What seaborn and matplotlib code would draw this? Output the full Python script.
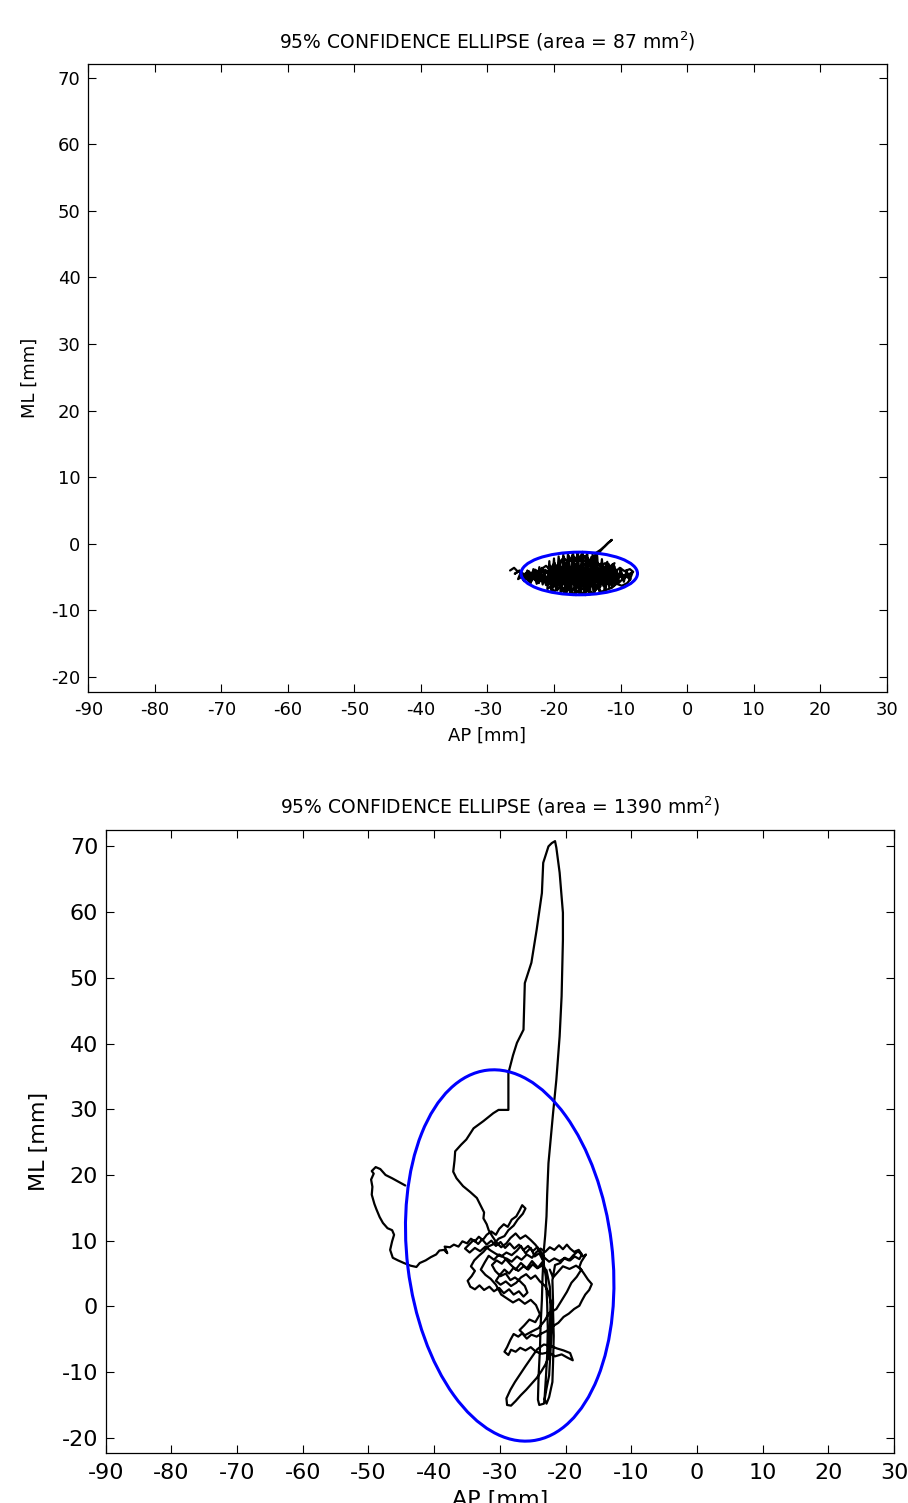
import matplotlib
matplotlib.use("Agg")
import matplotlib.pyplot as plt
from matplotlib.patches import Ellipse
import seaborn as sns

# ============================
# Data (AP / ML in mm)
# ============================
top_ap = [-26.6, -26.0, -25.4, -25.9, -25.2, -24.5, -23.8, -23.2, -22.6, -22.0,
          -21.4, -21.9, -21.2, -20.6, -20.1, -19.5, -19.0, -18.3, -17.8, -17.1,
          -16.5, -15.9, -15.3, -14.6, -14.0, -13.6, -13.0, -12.4, -11.9, -11.3,
          -11.8, -12.6, -13.4, -14.2, -14.9, -15.6, -16.2, -16.9, -17.5, -18.2,
          -18.8, -19.5, -20.3, -20.9, -21.6, -20.8, -20.1, -19.4, -18.7, -18.0,
          -17.3, -16.6, -15.9, -15.2, -14.5, -13.8, -13.2, -12.5, -11.8, -11.0,
          -10.2, -9.5, -8.8, -8.1, -8.6, -9.4, -10.1, -10.9, -11.6, -12.3,
          -13.1, -13.8, -14.6, -15.3, -16.0, -16.8, -17.6, -18.4, -19.1, -19.8,
          -20.5, -19.9, -19.1, -18.5, -17.7, -17.0, -16.3, -15.6, -14.9, -14.2,
          -13.5, -14.1, -14.8, -15.5, -16.2, -16.9, -17.6, -18.3, -19.0, -19.6,
          -19.1, -18.4, -17.7, -17.0, -16.3, -15.6, -14.9, -14.2, -13.5, -12.8,
          -12.1, -11.4, -10.7, -10.0, -9.2, -8.5, -9.0, -9.8, -10.6, -11.3,
          -12.1, -12.9, -13.6, -14.4, -15.1, -15.8, -16.5, -17.2, -17.9, -18.6,
          -19.3, -20.0, -20.7, -21.5, -22.3, -23.0, -23.7, -24.4, -23.6, -22.8,
          -22.1, -21.3, -20.6, -19.9, -19.2, -18.6, -17.9, -17.2, -16.5, -15.8,
          -15.1, -14.4, -13.7, -13.0, -12.3, -11.6, -10.9, -11.5, -12.4, -13.2,
          -14.0, -14.7, -15.4, -16.1, -16.8, -17.5, -18.2, -18.9, -18.1, -17.4,
          -16.7, -16.0, -15.3, -14.6, -13.9, -13.2, -13.9, -15.0, -16.1, -16.6,
          -21.0, -20.7, -20.4, -20.0, -19.7, -19.3, -19.0, -18.6, -18.3, -17.9,
          -17.6, -17.2, -16.9, -16.5, -16.2, -15.8, -15.5, -15.1, -14.8, -14.4,
          -14.1, -13.7, -13.4, -13.0, -12.6, -12.2, -11.8, -11.4, -11.0, -10.6,
          -10.9, -11.2, -11.7, -12.0, -12.4, -12.8, -13.2, -13.5, -13.9, -14.2,
          -14.6, -15.0, -15.3, -15.7, -16.0, -16.4, -16.7, -17.1, -17.4, -17.8,
          -18.1, -18.5, -18.8, -19.2, -19.5, -19.9, -20.2, -20.6, -21.2, -21.8,
          -22.3, -22.9, -23.4, -24.0, -24.6, -25.1, -24.4, -23.6, -22.7, -21.9,
          -13.0, -12.6, -12.2, -11.8, -11.3, -10.9, -10.4, -10.0, -9.5, -9.1,
          -8.6, -8.2, -8.9, -9.7, -10.5, -11.4, -12.3, -13.1, -14.0, -15.2,
          -16.4, -17.7, -18.9, -20.1, -21.3, -21.7, -22.2, -22.6, -23.1, -23.5,
          -24.0, -24.5, -25.0, -25.4, -24.8, -23.9, -22.9, -21.8, -20.8, -19.9]
top_ml = [-4.0, -3.6, -4.2, -4.5, -4.0, -4.6, -4.1, -4.8, -4.3, -5.1,
          -4.5, -3.8, -3.3, -3.9, -3.1, -3.7, -2.6, -3.2, -2.2, -2.9,
          -1.9, -2.6, -1.8, -2.5, -2.0, -1.3, -0.9, -0.4, 0.1, 0.6,
          0.2, -0.6, -1.5, -2.8, -3.4, -2.9, -3.6, -3.1, -3.9, -3.5,
          -4.2, -4.6, -4.1, -5.0, -5.6, -6.1, -5.4, -6.2, -5.5, -6.4,
          -5.7, -6.6, -5.9, -6.8, -6.1, -6.9, -6.2, -5.6, -6.1, -5.4,
          -5.8, -5.1, -4.6, -4.2, -3.8, -4.1, -3.6, -4.3, -3.7, -4.4,
          -3.8, -4.6, -4.0, -4.9, -4.3, -5.1, -4.5, -5.3, -4.8, -5.7,
          -6.6, -7.1, -6.5, -7.3, -6.8, -7.6, -7.0, -7.5, -6.9, -7.4,
          -6.7, -5.8, -5.2, -5.8, -5.0, -5.8, -5.2, -6.0, -5.6, -4.4,
          -3.4, -4.0, -3.4, -4.2, -3.5, -4.3, -3.7, -4.5, -3.9, -4.8,
          -5.2, -4.7, -5.1, -4.5, -4.9, -5.3, -5.9, -6.3, -6.0, -6.6,
          -6.9, -7.2, -6.3, -5.6, -6.4, -6.8, -6.1, -6.9, -6.2, -6.8,
          -6.0, -6.4, -5.5, -5.0, -5.8, -5.2, -5.7, -5.0, -4.6, -3.9,
          -4.4, -3.9, -4.6, -3.6, -2.9, -2.1, -2.7, -1.8, -2.4, -1.6,
          -2.2, -3.1, -2.6, -3.3, -2.9, -3.4, -2.9, -4.0, -3.6, -4.3,
          -3.3, -4.7, -3.9, -5.4, -4.0, -5.9, -4.6, -6.5, -7.0, -5.0,
          -6.3, -4.6, -6.1, -4.3, -5.6, -5.0, -3.1, -2.7, -2.2, -3.0,
          -6.8, -2.6, -7.2, -2.2, -6.9, -1.9, -7.4, -1.6, -7.1, -1.5,
          -7.5, -1.4, -7.2, -1.3, -7.6, -1.5, -7.3, -1.7, -7.4, -2.0,
          -7.0, -2.4, -6.6, -3.0, -6.3, -3.3, -6.0, -3.6, -5.8, -3.9,
          -6.2, -3.1, -6.5, -2.7, -6.9, -2.3, -7.1, -1.9, -7.3, -1.6,
          -7.6, -1.4, -7.7, -1.2, -7.5, -1.4, -7.7, -1.6, -7.3, -1.8,
          -7.5, -2.0, -6.8, -2.4, -7.0, -2.9, -6.6, -3.3, -6.2, -3.6,
          -5.9, -3.9, -5.6, -4.2, -5.4, -4.4, -5.2, -4.5, -5.6, -4.8,
          -6.4, -3.2, -6.6, -3.0, -6.3, -3.4, -6.0, -3.7, -5.7, -4.0,
          -5.4, -4.3, -4.8, -5.2, -4.4, -5.6, -4.1, -5.9, -4.6, -5.4,
          -4.6, -6.2, -3.9, -5.2, -4.2, -6.1, -3.5, -6.0, -3.8, -5.9,
          -4.0, -5.6, -4.3, -5.3, -4.9, -5.1, -4.7, -5.3, -4.9, -5.8]

bottom_ap = [-44.4, -45.3, -46.4, -47.4, -48.2, -48.9, -49.5, -49.2, -49.6, -49.4,
             -49.5, -49.1, -48.8, -48.3, -47.8, -47.1, -46.4, -46.1, -46.4, -46.7,
             -46.3, -45.5, -44.6, -43.6, -42.7, -42.2, -41.3, -40.5, -39.7, -39.2,
             -38.5, -38.0, -38.4, -37.6, -37.0, -36.3, -35.7, -35.0, -34.4, -33.8,
             -33.2, -32.6, -32.0, -31.3, -30.6, -30.1, -29.4, -28.8, -28.2, -27.5,
             -27.0, -26.6, -26.1, -26.5, -27.3, -27.9, -28.7, -29.3, -30.2, -30.9,
             -31.8, -32.5, -33.2, -33.9, -34.4, -33.8, -34.3, -34.9, -34.5, -33.8,
             -33.1, -32.4, -31.6, -30.9, -30.1, -29.4, -28.6, -27.9, -27.1, -26.4,
             -25.8, -26.2, -26.9, -27.7, -28.4, -29.1, -29.9, -30.7, -31.2, -30.5,
             -29.7, -29.0, -28.2, -27.4, -26.7, -25.9, -25.1, -24.5, -23.8, -23.1,
             -22.4, -21.7, -21.0, -20.4, -19.8, -19.3, -18.7, -18.0, -17.5, -17.9,
             -18.6, -19.3, -20.1, -20.9, -21.7, -22.5, -23.2, -23.9, -24.6, -25.3,
             -26.1, -26.9, -27.6, -28.4, -29.0, -29.8, -30.5, -31.1, -31.7, -32.0,
             -32.5, -32.4, -32.9, -33.5, -34.5, -35.6, -36.6, -37.1, -36.9, -36.8,
             -35.9, -35.1, -34.0, -32.5, -31.0, -30.2, -28.7, -28.7, -28.0, -27.4,
             -26.4, -26.2, -25.2, -24.4, -23.6, -23.4, -22.6, -22.1, -21.6, -21.4,
             -20.9, -20.4, -20.4, -20.6, -20.9, -21.4, -21.9, -22.6, -22.8, -22.9,
             -23.1, -23.3, -23.5, -23.6, -23.8, -23.9, -24.1, -24.2, -24.0, -23.3,
             -22.9, -22.5, -22.3, -22.1, -21.9, -22.0, -21.6, -20.8, -20.2, -19.5,
             -18.8, -18.1, -17.3, -16.9, -17.6, -17.9, -17.2, -16.6, -16.0, -16.4,
             -17.0, -17.5, -17.9, -18.7, -19.5, -20.3, -21.1, -21.9, -22.8, -23.6,
             -24.4, -25.2, -25.9, -26.6, -27.2, -27.9, -28.4, -28.9, -29.3, -28.7,
             -28.3, -27.6, -26.9, -26.1, -25.3, -24.5, -23.6, -22.6, -21.6, -20.6,
             -19.7, -18.9, -19.3, -20.3, -21.3, -22.3, -23.3, -24.3, -25.2, -26.1,
             -26.9, -27.7, -28.4, -29.0, -28.9, -28.3, -27.6, -26.8, -26.0, -25.2,
             -24.4, -23.7, -23.1, -22.6, -22.4, -22.3, -22.4, -22.9, -23.6, -24.3,
             -25.0, -25.7, -26.4, -27.2, -27.9, -28.6, -29.3, -30.0, -30.6, -29.9,
             -29.1, -28.3, -27.5, -26.8, -26.0, -25.3, -24.6, -23.9, -23.1, -22.6,
             -21.9, -21.8, -21.9, -22.0, -22.5, -22.9, -23.2, -23.0, -22.8, -22.7,
             -22.8, -23.0, -23.5, -24.3, -25.0, -25.7, -26.4, -27.1, -27.8, -28.5,
             -29.2, -29.9, -30.6, -31.3, -32.0, -32.7, -33.3, -34.0, -34.7, -35.3,
             -34.6, -33.8, -33.0, -32.2, -31.4, -30.6, -29.8, -29.0, -28.2, -27.4,
             -26.8, -26.1, -25.3, -24.7, -24.0, -23.4, -24.2, -25.1, -25.9, -26.8,
             -27.6, -28.4, -29.3, -30.1, -30.9, -31.7, -32.3, -32.9, -32.2, -31.4,
             -30.6, -29.8, -28.9, -28.0, -27.1, -26.2, -25.3, -24.5, -23.9, -24.6,
             -25.5, -26.3, -27.0, -26.2, -25.1, -24.1, -23.2, -22.5, -21.4, -20.6,
             -19.8, -19.1, -18.3, -17.6, -18.4, -19.4, -20.4, -21.2, -21.9, -22.4]
bottom_ml = [18.4, 18.9, 19.5, 20.0, 20.9, 21.2, 20.6, 20.2, 19.3, 18.2,
             17.0, 15.6, 14.8, 13.6, 12.7, 11.9, 11.6, 10.9, 9.9, 8.6,
             7.4, 7.0, 6.6, 6.2, 6.0, 6.6, 7.0, 7.5, 7.9, 8.5,
             8.6, 8.1, 9.1, 9.0, 9.4, 9.1, 9.9, 9.6, 10.3, 9.9,
             10.6, 10.1, 10.9, 11.4, 10.9, 11.8, 12.5, 12.1, 13.2, 13.7,
             14.6, 15.4, 14.9, 14.1, 13.2, 12.3, 11.6, 10.7, 10.3, 9.5,
             9.1, 8.3, 7.7, 7.0, 6.1, 5.4, 4.6, 3.9, 3.0, 2.6,
             3.2, 2.5, 3.0, 2.3, 2.8, 2.0, 2.6, 1.8, 2.3, 1.5,
             2.1, 3.1, 3.8, 4.4, 4.0, 5.0, 4.6, 5.4, 6.3, 7.0,
             6.5, 7.3, 6.8, 7.6, 7.1, 7.9, 7.4, 8.2, 8.8, 8.3,
             9.0, 8.6, 9.3, 8.7, 9.4, 8.8, 8.3, 8.6, 7.9, 7.2,
             7.6, 7.0, 7.4, 6.9, 7.3, 6.8, 7.4, 8.5, 9.4, 10.1,
             10.8, 10.3, 11.1, 10.4, 9.6, 9.0, 9.7, 10.6, 11.6, 12.5,
             13.4, 14.3, 15.3, 16.5, 17.4, 18.3, 19.5, 20.5, 22.2, 23.6,
             24.6, 25.4, 27.1, 28.2, 29.4, 29.9, 29.9, 35.5, 38.2, 40.1,
             42.1, 49.2, 52.3, 57.3, 62.9, 67.5, 70.0, 70.5, 70.8, 69.8,
             66.0, 59.9, 55.8, 47.2, 41.1, 34.5, 29.4, 21.8, 17.0, 13.7,
             10.8, 8.6, 4.5, 1.0, -3.0, -6.6, -10.5, -14.2, -15.0, -14.8,
             -12.5, -10.5, -7.0, -3.0, 0.5, 4.0, 6.3, 6.6, 7.3, 7.0,
             7.8, 8.4, 7.6, 7.9, 6.8, 6.0, 5.0, 4.1, 3.4, 2.5,
             1.8, 0.9, 0.1, -0.4, -1.1, -1.6, -2.5, -3.0, -3.7, -4.1,
             -4.6, -4.3, -4.9, -4.1, -4.6, -4.2, -5.1, -6.2, -6.9, -7.4,
             -6.6, -6.9, -6.3, -6.7, -6.2, -6.9, -7.2, -7.0, -7.6, -7.3,
             -7.8, -8.2, -7.1, -6.7, -6.4, -6.0, -5.8, -6.5, -7.8, -9.1,
             -10.3, -11.5, -12.7, -14.0, -15.0, -15.1, -14.4, -13.5, -12.7, -11.8,
             -10.9, -9.9, -8.9, -7.8, -4.0, 0.0, 3.0, 5.5, 6.2, 5.8,
             6.4, 5.6, 6.1, 5.4, 5.9, 5.0, 5.6, 4.8, 3.9, 3.3,
             3.8, 3.1, 3.6, 4.4, 4.9, 4.2, 4.7, 3.8, 3.1, 2.1,
             -0.8, -4.5, -8.5, -11.5, -13.8, -14.8, -14.1, -11.0, -7.5, -3.5,
             0.5, 4.5, 7.6, 9.0, 8.4, 9.2, 8.6, 9.4, 8.8, 9.6,
             8.9, 9.8, 9.2, 10.0, 9.4, 10.2, 9.5, 10.1, 9.4, 8.8,
             8.2, 8.9, 8.4, 9.1, 8.5, 8.0, 7.6, 8.2, 7.8, 8.5,
             9.2, 8.1, 8.9, 7.6, 8.1, 6.9, 5.9, 6.9, 5.8, 6.6,
             5.6, 6.4, 7.4, 7.9, 7.1, 7.7, 6.7, 5.6, 4.8, 4.2,
             3.3, 1.8, 1.2, 0.6, 1.1, 0.4, 1.0, 0.2, -1.2, -2.4,
             -2.0, -2.9, -3.6, -4.4, -3.8, -3.3, -2.2, -1.0, -0.4, 0.9,
             2.2, 3.6, 4.5, 5.6, 6.2, 5.7, 6.1, 5.2, 4.4, 5.6]

# 95% confidence ellipses: centre, full width (AP), full height (ML), tilt in degrees
top_ellipse = {"center": (-16.2, -4.45), "width": 17.5, "height": 6.4, "angle": 0.0}
bottom_ellipse = {"center": (-28.5, 7.75), "width": 31.2, "height": 56.8, "angle": 7.0}
areas = [87, 1390]

x_ticks = list(range(-90, 31, 10))
y_ticks = list(range(-20, 71, 10))

# ============================
# Figure
# ============================
sns.set_style("ticks")
plt.rcParams["font.family"] = ["DejaVu Sans"]
plt.rcParams["mathtext.fontset"] = "dejavusans"
plt.rcParams["axes.unicode_minus"] = False
plt.rcParams["text.color"] = "black"
plt.rcParams["axes.labelcolor"] = "black"

fig = plt.figure(figsize=(9.08, 15.03), dpi=100)
ax_top = fig.add_axes([0.0972, 0.5398, 0.8793, 0.4174])
ax_bot = fig.add_axes([0.1164, 0.0333, 0.8682, 0.4145])

panels = [
    (ax_top, top_ap, top_ml, top_ellipse, areas[0], (-22.2, 72.0), 13),
    (ax_bot, bottom_ap, bottom_ml, bottom_ellipse, areas[1], (-22.3, 72.5), 16),
]

for ax, ap, ml, ell, area, ylim, fs in panels:
    sns.lineplot(x=ap, y=ml, sort=False, estimator=None, color="black",
                 linewidth=1.6, ax=ax, legend=False)
    ax.add_patch(Ellipse(ell["center"], ell["width"], ell["height"], angle=ell["angle"],
                         fill=False, edgecolor="#0000ff", linewidth=2.2, zorder=3))
    ax.set_xlim(-90, 30)
    ax.set_ylim(*ylim)
    ax.set_xticks(x_ticks)
    ax.set_yticks(y_ticks)
    ax.tick_params(direction="in", length=6, width=0.8, top=True, right=True,
                   labelsize=fs, colors="black")
    ax.tick_params(axis="x", pad=7)
    ax.tick_params(axis="y", pad=5.5)
    for sp in ax.spines.values():
        sp.set_visible(True)
        sp.set_linewidth(0.9)
        sp.set_color("black")
    ax.set_xlabel("AP [mm]", fontsize=fs, labelpad=5)
    ax.set_ylabel("ML [mm]", fontsize=fs, labelpad=9)
    ax.set_title(f"95% CONFIDENCE ELLIPSE (area = {area} mm$^{{2}}$)", fontsize=13.5, pad=11.5)

fig.savefig("out.png", dpi=100)
plt.close(fig)
